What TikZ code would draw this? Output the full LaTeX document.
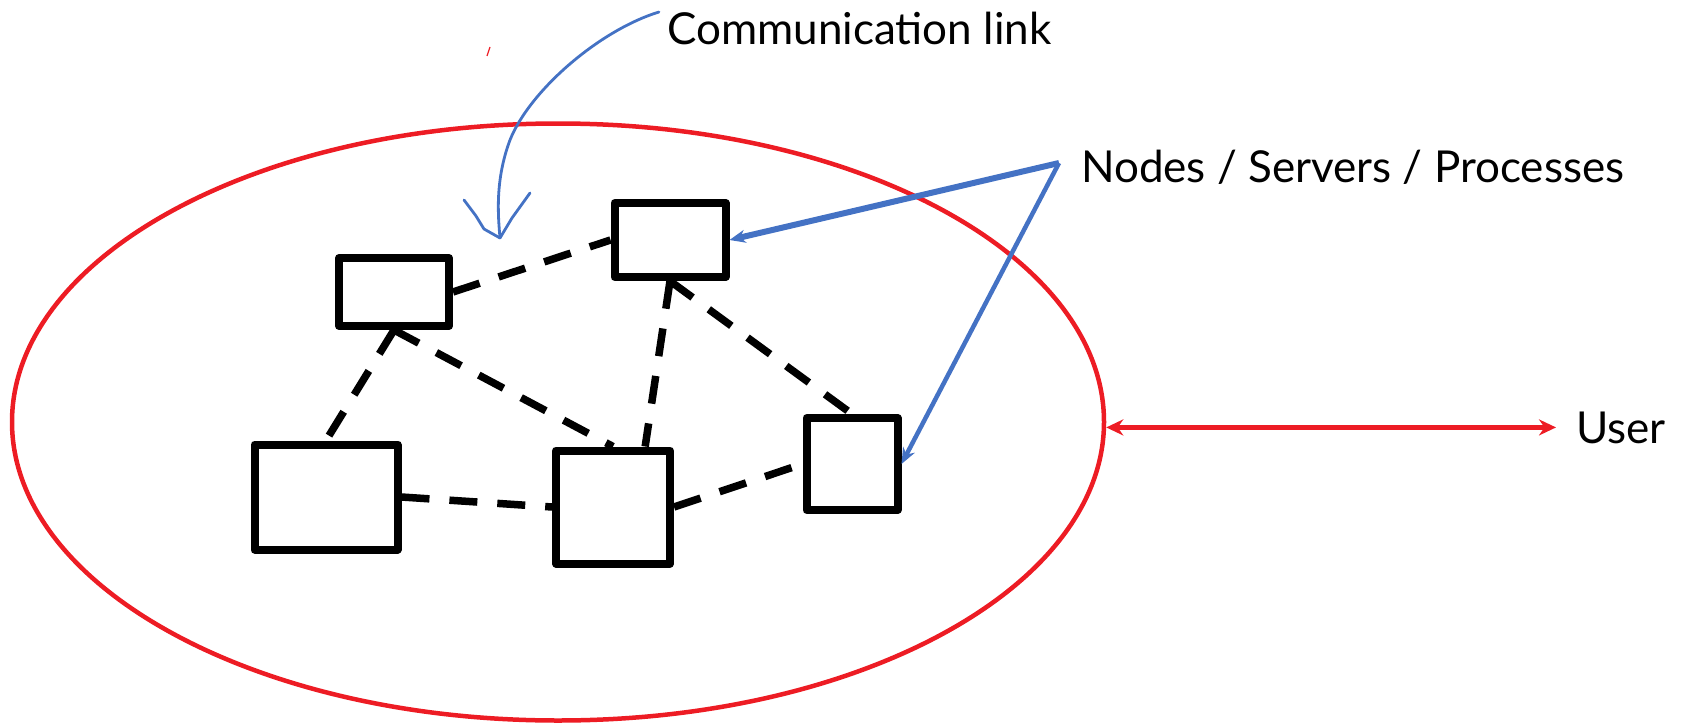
\documentclass[tikz,border=0pt]{standalone}
\usepackage{fontspec}
\setmainfont{Lato}
\usepackage{tikz}
\usetikzlibrary{arrows.meta,shapes.geometric}

\definecolor{redline}{RGB}{237,28,36}
\definecolor{blueptr}{RGB}{68,114,196}

\begin{document}
\begin{tikzpicture}[x=1pt,y=-1pt,line join=round,
                    font=\fontsize{44}{50}\selectfont]
  \tikzstyle{every node}=[inner sep=0pt]
  \tikzstyle{server}=[draw,line width=8pt,fill=white]
  \tikzstyle{link}=[draw,line width=7.5pt,dash pattern=on 28pt off 20pt]
  \tikzstyle{pointer}=[draw=blueptr,-{Stealth[length=16pt,width=13pt]}]

  \useasboundingbox (0,0) rectangle (1681,725);

  \node[ellipse,draw=redline,line width=4.5pt,minimum width=1092pt,
        minimum height=597pt] (system) at (558,422) {};

  \node[server,minimum width=110pt,minimum height=68pt]  (A) at (394,292) {};
  \node[server,minimum width=111pt,minimum height=74pt]  (B) at (670,240) {};
  \node[server,minimum width=143pt,minimum height=105pt] (C) at (326,497) {};
  \node[server,minimum width=114pt,minimum height=113pt] (D) at (613,507) {};
  \node[server,minimum width=91pt,minimum height=92pt]   (E) at (852,464) {};

  \path (A.east)  edge[link] (B.west)
        (A.south) edge[link] (C.north)
        (A.south) edge[link] (D.north)
        (B.south) edge[link] (D.62)
        (B.south) edge[link] (E.north)
        (C.east)  edge[link] (D.west)
        (D.east)  edge[link] (E.west)
  ; %end path

  \node[anchor=base west] (comm)  at (667,45)  {Communication link};
  \node[anchor=base west] (roles) at (1081,182) {Nodes / Servers / Processes};
  \node[anchor=base west] (user)  at (1576,443) {User};

  % pointers to the servers
  \coordinate (fork) at (1059,163);
  \draw[pointer,line width=6pt] (fork) -- (B.east);
  \draw[pointer,line width=4.5pt] (fork) -- (E.east);

  % system boundary to the user
  \draw[redline,line width=4.5pt,{Stealth[length=17pt,width=16pt]}-{Stealth[length=17pt,width=16pt]},
        shorten >=20pt] (system.east |- user.west) -- (user.west);

  % hand drawn arrow to a link
  \coordinate (tip) at (500,238);
  \draw[blueptr,line width=2.8pt,line cap=round]
    (659,12) .. controls (600,30) and (530,90) .. (510,140)
      .. controls (495,180) and (498,215) .. (tip);
  \draw[blueptr,line width=2.8pt,line cap=round]
    (464,200) -- (476,216) -- (484,229) -- (tip) -- (512,218) -- (530,193);
  \draw[redline,line width=1.2pt] (487,56) -- (490,47);
\end{tikzpicture}
\end{document}
